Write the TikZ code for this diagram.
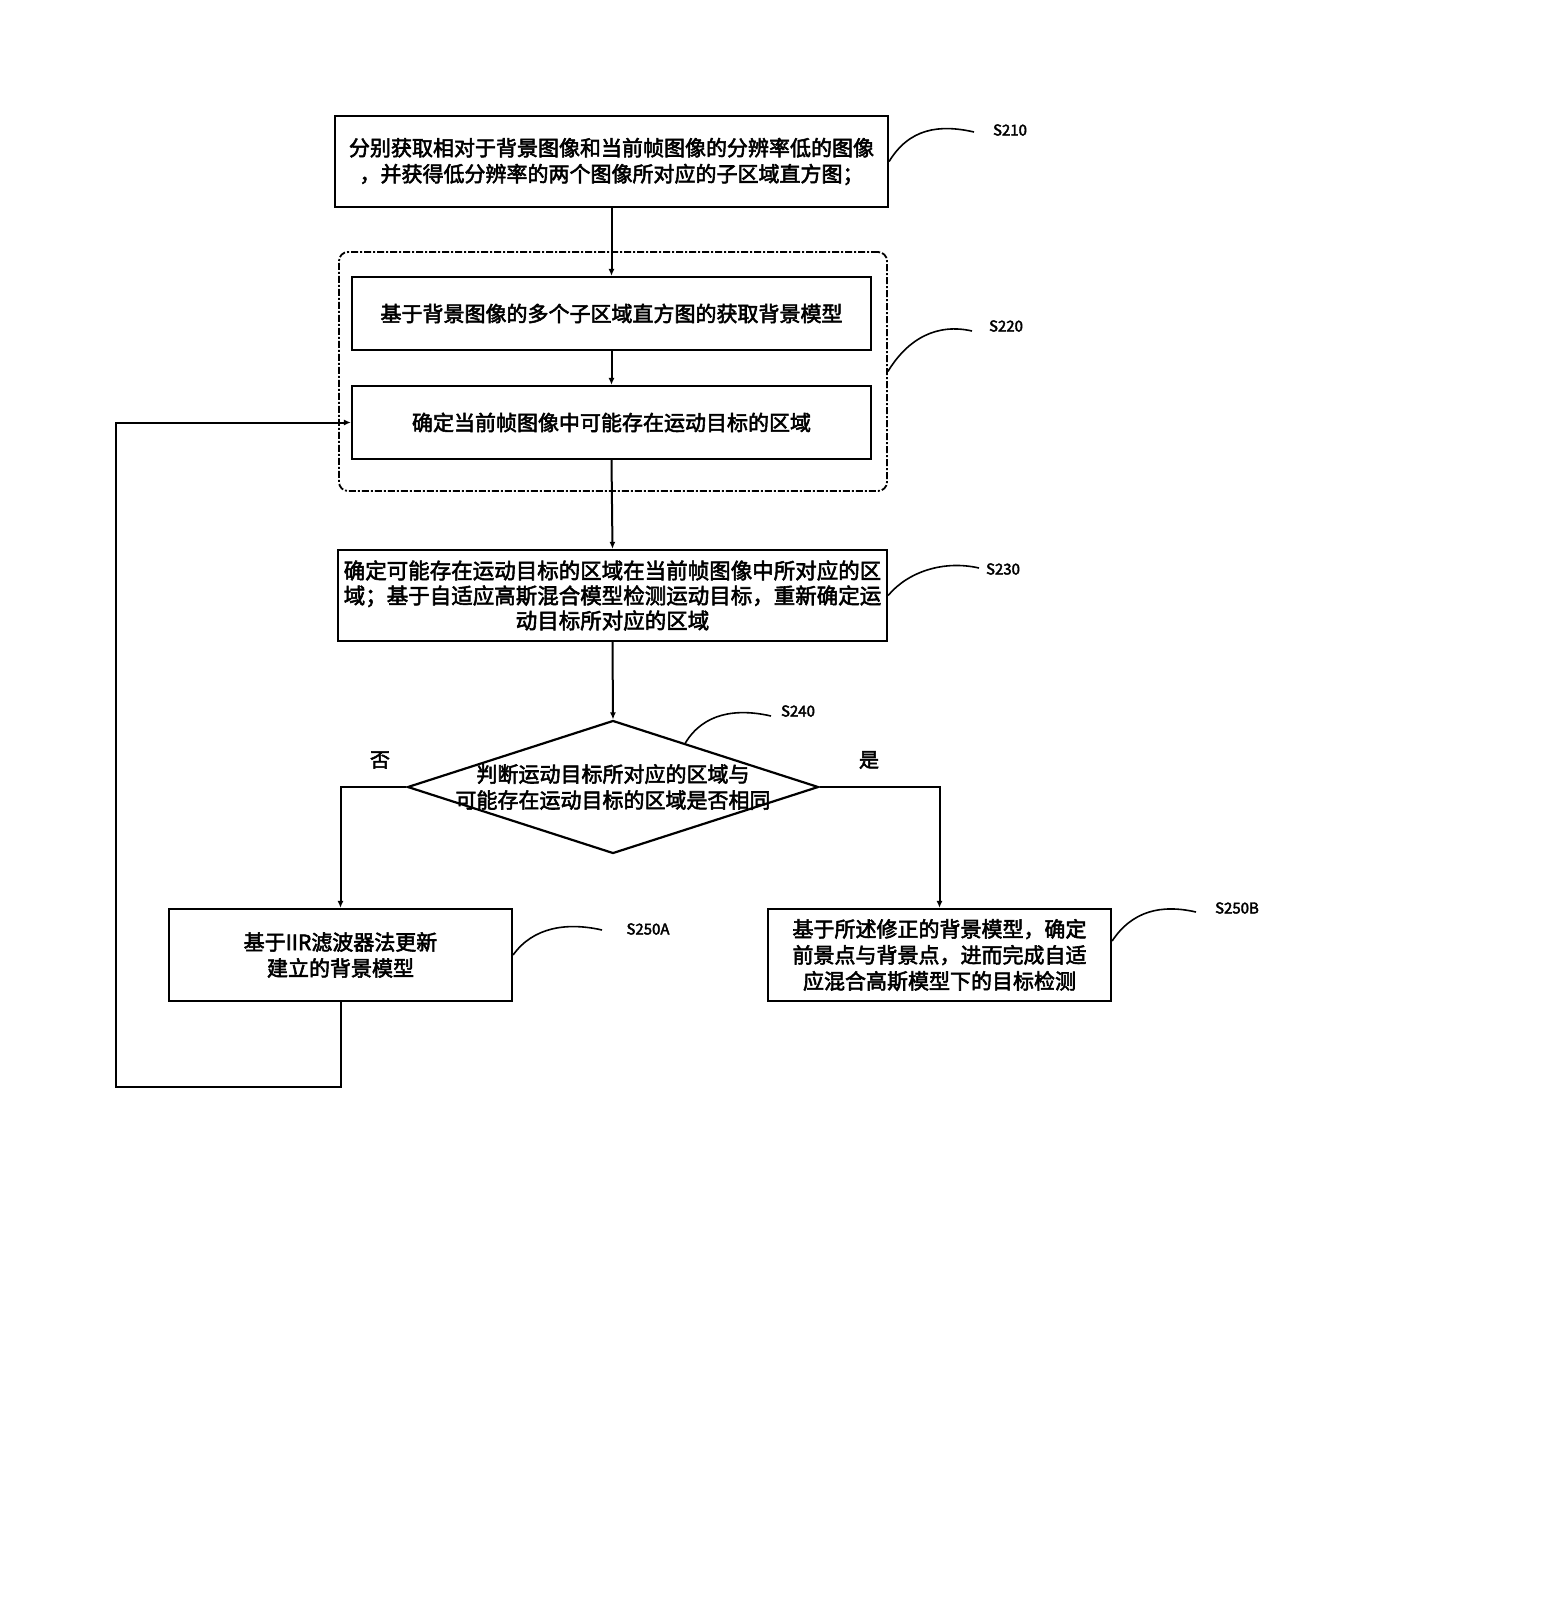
\documentclass[tikz,border=0pt]{standalone}
\usepackage{fontspec}
\setmainfont[FakeBold=2.6]{Noto Sans CJK SC}
\usetikzlibrary{shapes.geometric,arrows.meta,calc}
\begin{document}
\begin{tikzpicture}[x=1pt,y=1pt,
  box/.style={draw,line width=2.2pt,rectangle,inner sep=0pt,align=center,font=\fontsize{21}{26}\selectfont},
  grp/.style={draw,line width=1.8pt,rectangle,rounded corners=9pt,dash pattern=on 7pt off 2pt on 2pt off 2pt,inner sep=0pt},
  dia/.style={draw,line width=2.2pt,diamond,inner sep=0pt,aspect=3.09},
  txt/.style={align=center,inner sep=0pt,font=\fontsize{21}{26}\selectfont},
  lab/.style={inner sep=0pt,font=\fontsize{15}{18}\selectfont},
  yn/.style={inner sep=0pt,font=\fontsize{20}{24}\selectfont},
  conn/.style={line width=2pt,-{Latex[length=7pt,width=6pt]}},
  wave/.style={line width=1.6pt}]
\useasboundingbox[fill=white] (0,0) rectangle (1548,-1607);

% boxes
\node[box,minimum width=553pt,minimum height=91pt] (s210) at (611.5,-161.5)
  {分别获取相对于背景图像和当前帧图像的分辨率低的图像\\，并获得低分辨率的两个图像所对应的子区域直方图；};
\node[grp,minimum width=548pt,minimum height=239pt] (g) at (613,-371.5) {};
\node[box,minimum width=519pt,minimum height=73pt] (b2) at (611.5,-313.5)
  {基于背景图像的多个子区域直方图的获取背景模型};
\node[box,minimum width=519pt,minimum height=73pt] (b3) at (611.5,-422.5)
  {确定当前帧图像中可能存在运动目标的区域};
\node[box,minimum width=549pt,minimum height=91pt,font=\fontsize{21.5}{25}\selectfont] (s230) at (612.5,-595.5)
  {确定可能存在运动目标的区域在当前帧图像中所对应的区\\域；基于自适应高斯混合模型检测运动目标，重新确定运\\动目标所对应的区域};
\node[dia,minimum width=411pt,minimum height=133pt] (d) at (613,-787) {};
\node[txt] (dt) at (613,-787) {判断运动目标所对应的区域与\\可能存在运动目标的区域是否相同};
\node[box,minimum width=343pt,minimum height=92pt] (a) at (340.5,-955)
  {基于IIR滤波器法更新\\建立的背景模型};
\node[box,minimum width=343pt,minimum height=92pt] (b) at (939.5,-955)
  {基于所述修正的背景模型，确定\\前景点与背景点，进而完成自适\\应混合高斯模型下的目标检测};

% yes / no
\node[yn] (no) at (380,-760) {否};
\node[yn] (yes) at (869,-760) {是};

% connectors
\draw[conn] (s210.south) -- (b2.north);
\draw[conn] (b2.south) -- (b3.north);
\draw[conn] (b3.south) -- (s230.north);
\draw[conn] (s230.south) -- (d.north);
\draw[conn] (d.west) -| (a.north);
\draw[conn] (d.east) -| (b.north);
\coordinate (l1) at (340.5,-1087);
\coordinate (l2) at (116,-1087);
\draw[conn] (a.south) -- (l1) -- (l2) |- (b3.west);

% step labels
\node[lab] (t210) at (1010,-130) {S210};
\node[lab] (t220) at (1006,-326) {S220};
\node[lab] (t230) at (1003,-569) {S230};
\node[lab] (t240) at (798,-711) {S240};
\node[lab] (t250a) at (648,-929) {S250A};
\node[lab] (t250b) at (1237,-908) {S250B};

\coordinate (e210) at (974,-132);
\coordinate (e220) at (972,-331);
\coordinate (e230) at (979,-568);
\coordinate (e240) at (771,-716);
\coordinate (e250a) at (602,-930);
\coordinate (e250b) at (1196,-912);
\coordinate (s240) at ($(d.north)!0.35!(d.east)$);
\coordinate (s250b) at ([yshift=14pt]b.east);

\draw[wave] (s210.east) .. controls +(20,33) and +(-35,8) .. (e210);
\draw[wave] (g.east) .. controls +(20,33) and +(-35,8) .. (e220);
\draw[wave] (s230.east) .. controls +(20,24) and +(-35,8) .. (e230);
\draw[wave] (s240) .. controls +(18,30) and +(-35,8) .. (e240);
\draw[wave] (a.east) .. controls +(20,28) and +(-35,8) .. (e250a);
\draw[wave] (s250b) .. controls +(20,30) and +(-35,8) .. (e250b);
\end{tikzpicture}
\end{document}
